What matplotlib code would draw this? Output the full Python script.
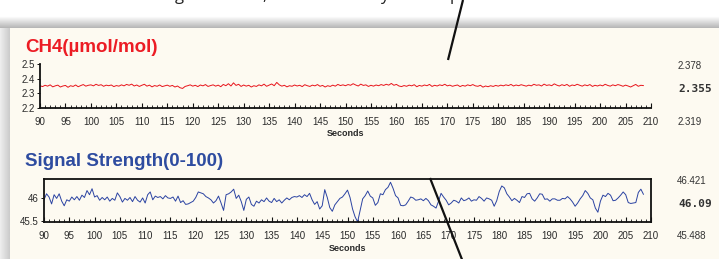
import numpy as np
import matplotlib
matplotlib.use("Agg")
import matplotlib.pyplot as plt
from matplotlib.ticker import MultipleLocator

# ---------------- data ----------------
t_start, t_step = 90.0, 0.5

ch4 = [
    2.352, 2.346, 2.355, 2.349, 2.358, 2.344, 2.351, 2.356, 2.343, 2.350,
    2.354, 2.341, 2.352, 2.347, 2.357, 2.345, 2.353, 2.360, 2.349, 2.355,
    2.358, 2.351, 2.362, 2.354, 2.359, 2.348, 2.356, 2.352, 2.357, 2.346,
    2.353, 2.349, 2.358, 2.351, 2.361, 2.355, 2.363, 2.350, 2.357, 2.347,
    2.355, 2.362, 2.349, 2.356, 2.344, 2.353, 2.348, 2.357, 2.346, 2.351,
    2.356, 2.348, 2.354, 2.343, 2.350, 2.338, 2.333, 2.347, 2.352, 2.358,
    2.349, 2.355, 2.346, 2.357, 2.351, 2.360, 2.347, 2.353, 2.358, 2.349,
    2.356, 2.345, 2.361, 2.352, 2.366, 2.350, 2.372, 2.354, 2.362, 2.347,
    2.357, 2.349, 2.355, 2.343, 2.352, 2.347, 2.358, 2.351, 2.363, 2.348,
    2.356, 2.364, 2.352, 2.375, 2.358, 2.349, 2.355, 2.344, 2.352, 2.348,
    2.357, 2.350, 2.355, 2.346, 2.359, 2.352, 2.347, 2.356, 2.351, 2.360,
    2.348, 2.354, 2.343, 2.352, 2.347, 2.356, 2.349, 2.361, 2.353, 2.358,
    2.352, 2.360, 2.355, 2.366, 2.357, 2.350, 2.363, 2.354, 2.358, 2.347,
    2.355, 2.349, 2.357, 2.352, 2.360, 2.354, 2.362, 2.356, 2.368, 2.355,
    2.361, 2.350, 2.346, 2.353, 2.348, 2.356, 2.351, 2.359, 2.345, 2.354,
    2.349, 2.357, 2.352, 2.361, 2.347, 2.355, 2.350, 2.358, 2.353, 2.362,
    2.351, 2.356, 2.348, 2.353, 2.357, 2.346, 2.354, 2.349, 2.358, 2.352,
    2.360, 2.351, 2.348, 2.355, 2.342, 2.350, 2.345, 2.352, 2.347, 2.354,
    2.349, 2.356, 2.351, 2.358, 2.353, 2.361, 2.350, 2.357, 2.352, 2.359,
    2.354, 2.349, 2.356, 2.351, 2.362, 2.355, 2.358, 2.350, 2.363, 2.354,
    2.358, 2.352, 2.365, 2.356, 2.350, 2.359, 2.353, 2.361, 2.348, 2.357,
    2.353, 2.362, 2.355, 2.349, 2.358, 2.352, 2.360, 2.347, 2.355, 2.350,
    2.357, 2.351, 2.362, 2.354, 2.349, 2.358, 2.352, 2.360, 2.355, 2.348,
    2.356, 2.350, 2.343, 2.352, 2.361, 2.348, 2.355, 2.353,
]

signal = [
    45.97, 46.10, 46.03, 45.88, 46.08, 46.00, 46.10, 45.94, 45.84, 45.97,
    45.94, 46.03, 45.97, 46.04, 45.96, 46.07, 46.02, 46.17, 46.08, 46.21,
    46.03, 46.06, 45.96, 46.02, 45.97, 46.03, 45.94, 46.00, 45.96, 46.12,
    46.04, 45.92, 46.00, 45.96, 46.02, 45.93, 46.04, 45.96, 45.92, 46.01,
    45.90, 46.08, 46.14, 45.97, 46.05, 46.02, 46.04, 45.99, 46.06, 46.01,
    46.00, 46.03, 45.94, 46.05, 45.91, 45.95, 45.87, 45.88, 45.91, 45.94,
    46.02, 46.14, 46.12, 46.10, 46.04, 46.01, 45.97, 45.90, 45.95, 46.05,
    45.90, 45.74, 46.08, 46.10, 46.14, 46.20, 46.00, 46.07, 45.93, 45.74,
    45.98, 46.03, 45.87, 45.83, 45.94, 45.90, 45.97, 45.93, 46.01, 45.94,
    45.91, 46.00, 45.93, 45.97, 45.90, 45.96, 46.01, 45.97, 46.02, 46.04,
    46.03, 46.06, 46.02, 46.08, 46.04, 46.11, 45.97, 45.87, 45.93, 45.77,
    45.84, 46.19, 46.02, 45.80, 45.72, 45.86, 45.93, 46.00, 46.03, 46.10,
    46.18, 46.02, 45.77, 45.60, 45.49, 45.74, 45.99, 46.06, 46.16, 46.05,
    46.01, 45.85, 45.91, 46.10, 46.08, 46.19, 46.24, 46.35, 46.22, 46.06,
    46.01, 45.85, 45.84, 45.86, 45.94, 46.03, 46.01, 45.96, 45.97, 45.99,
    45.95, 46.00, 45.95, 45.86, 45.83, 45.79, 45.94, 46.11, 46.03, 45.96,
    45.86, 45.90, 45.96, 45.94, 45.90, 46.01, 45.95, 45.97, 46.01, 45.94,
    45.97, 45.96, 46.04, 46.00, 45.94, 46.01, 45.99, 45.96, 45.83, 45.95,
    46.15, 46.27, 46.23, 46.10, 46.03, 45.95, 46.00, 45.96, 45.91, 46.04,
    46.02, 46.10, 46.11, 45.99, 45.94, 46.01, 46.10, 46.09, 45.98, 45.99,
    45.94, 45.99, 45.99, 45.96, 45.96, 46.00, 45.99, 46.04, 45.99, 45.92,
    45.83, 45.90, 45.99, 46.06, 46.17, 46.11, 46.01, 45.97, 45.79, 45.70,
    45.94, 46.07, 46.04, 46.11, 46.07, 45.95, 45.96, 46.01, 46.07, 46.14,
    46.08, 45.91, 45.89, 45.90, 45.91, 46.13, 46.20, 46.09,
]

ch4_title = "CH4(µmol/mol)"
sig_title = "Signal Strength(0-100)"
ch4_stats = ["2.378", "2.355", "2.319"]      # max, current, min
sig_stats = ["46.421", "46.09", "45.488"]    # max, current, min
x_label = "Seconds"
ch4_yticks = [2.2, 2.3, 2.4, 2.5]
sig_yticks = [45.5, 46]

t_ch4 = t_start + t_step * np.arange(len(ch4))
t_sig = t_start + t_step * np.arange(len(signal))

# ---------------- figure ----------------
W, H = 719, 259
fig = plt.figure(figsize=(W / 100, H / 100), dpi=100)
fig.patch.set_facecolor("white")

def fx(x):
    return x / W

def fy(y):
    return 1 - y / H

# background layer (pixel coordinates, y downwards)
bg = fig.add_axes([0, 0, 1, 1], zorder=-10)
bg.set_xlim(0, W)
bg.set_ylim(H, 0)
bg.axis("off")
panel_col = "#FDFAF1"
bg.add_patch(plt.Rectangle((10, 28), W - 10, H - 28, fc=panel_col, ec="none"))
# shadows
top_grad = np.linspace(1.0, 0.72, 12)[:, None] * np.ones((1, 2))
bg.imshow(np.dstack([top_grad] * 3), extent=(0, W, 28, 16), aspect="auto",
          interpolation="bilinear", zorder=1)
left_grad = np.linspace(0.93, 0.80, 10)[None, :] * np.ones((2, 1))
bg.imshow(np.dstack([left_grad] * 3), extent=(0, 10, H, 28), aspect="auto",
          interpolation="bilinear", zorder=1)
bg.set_xlim(0, W)
bg.set_ylim(H, 0)

tick_font = "Liberation Sans"
txt_col = "#2a2a2a"

def style_axis(ax, full_box):
    ax.set_facecolor("none")
    for s in ["left", "bottom"]:
        ax.spines[s].set_linewidth(1.3)
        ax.spines[s].set_color("#111111")
    for s in ["top", "right"]:
        ax.spines[s].set_visible(full_box)
        ax.spines[s].set_linewidth(1.3)
        ax.spines[s].set_color("#111111")
    ax.set_xlim(90, 210)
    ax.xaxis.set_major_locator(MultipleLocator(5))
    ax.xaxis.set_minor_locator(MultipleLocator(1))
    ax.tick_params(axis="x", which="major", direction="in", length=3.5, width=0.8,
                   pad=6.5, labelsize=7, labelcolor=txt_col, color="#111111")
    ax.tick_params(axis="x", which="minor", direction="in", length=2, width=0.6,
                   color="#111111")
    ax.tick_params(axis="y", which="major", direction="out", length=2, width=0.7,
                   pad=2, labelsize=7, labelcolor=txt_col, color="#111111")
    for lab in ax.get_xticklabels() + ax.get_yticklabels():
        lab.set_fontfamily(tick_font)
    ax.set_xlabel(x_label, fontsize=6.5, fontweight="bold", family=tick_font,
                  color=txt_col, labelpad=2)

# --- top: CH4 ---
ax1 = fig.add_axes([fx(40), fy(107.5), fx(651) - fx(40), (107.5 - 64.5) / H])
ax1.plot(t_ch4, ch4, color="#E8141B", lw=0.7)
ax1.set_ylim(2.2, 2.5)
ax1.set_yticks(ch4_yticks)
ax1.set_yticklabels([f"{v:.1f}" for v in ch4_yticks])
style_axis(ax1, False)

# --- bottom: signal strength ---
ax2 = fig.add_axes([fx(44), fy(222), fx(651) - fx(44), (222 - 179) / H])
ax2.plot(t_sig, signal, color="#2B43A2", lw=0.7)
ax2.set_ylim(float(sig_stats[2]), float(sig_stats[0]))
ax2.set_yticks(sig_yticks)
ax2.set_yticklabels(["45.5", "46"])
style_axis(ax2, True)

# titles
fig.text(fx(25), fy(47), ch4_title, color="#EC1C24", fontsize=13.5,
         fontweight="bold", family="Liberation Sans", va="center", ha="left")
fig.text(fx(25), fy(161), sig_title, color="#2E4CA0", fontsize=13.5,
         fontweight="bold", family="Liberation Sans", va="center", ha="left")

# side statistics
for lab, y in zip(ch4_stats, [66, 89, 122]):
    if lab == ch4_stats[1]:
        fig.text(fx(678), fy(y), lab, fontsize=8, family="DejaVu Sans Mono",
                 fontweight="bold", color="#333333", va="center", ha="left")
    else:
        fig.text(fx(678), fy(y), lab, fontsize=7, family=tick_font,
                 color="#333333", va="center", ha="left")
for lab, y in zip(sig_stats, [181, 204, 236]):
    if lab == sig_stats[1]:
        fig.text(fx(678), fy(y), lab, fontsize=8, family="DejaVu Sans Mono",
                 fontweight="bold", color="#333333", va="center", ha="left")
    else:
        fig.text(fx(677), fy(y), lab, fontsize=7, family=tick_font,
                 color="#333333", va="center", ha="left")

# overlay: annotation pointer lines and cut-off caption text above
ov = fig.add_axes([0, 0, 1, 1], zorder=20)
ov.set_xlim(0, W)
ov.set_ylim(H, 0)
ov.axis("off")
ov.patch.set_alpha(0)
ov.plot([463, 448], [0, 60], color="#111111", lw=1.6, solid_capstyle="butt", clip_on=False)
ov.plot([430, 463], [178, 262], color="#111111", lw=1.6, solid_capstyle="butt", clip_on=False)
for ch, x in [("g", 175), (",", 262), ("y", 380), ("p", 450)]:
    ov.text(x, 0.3, ch, fontsize=12, family="Open Sans", color="#222222",
            va="baseline", ha="left", clip_on=False)

fig.savefig("out.png", dpi=100)
